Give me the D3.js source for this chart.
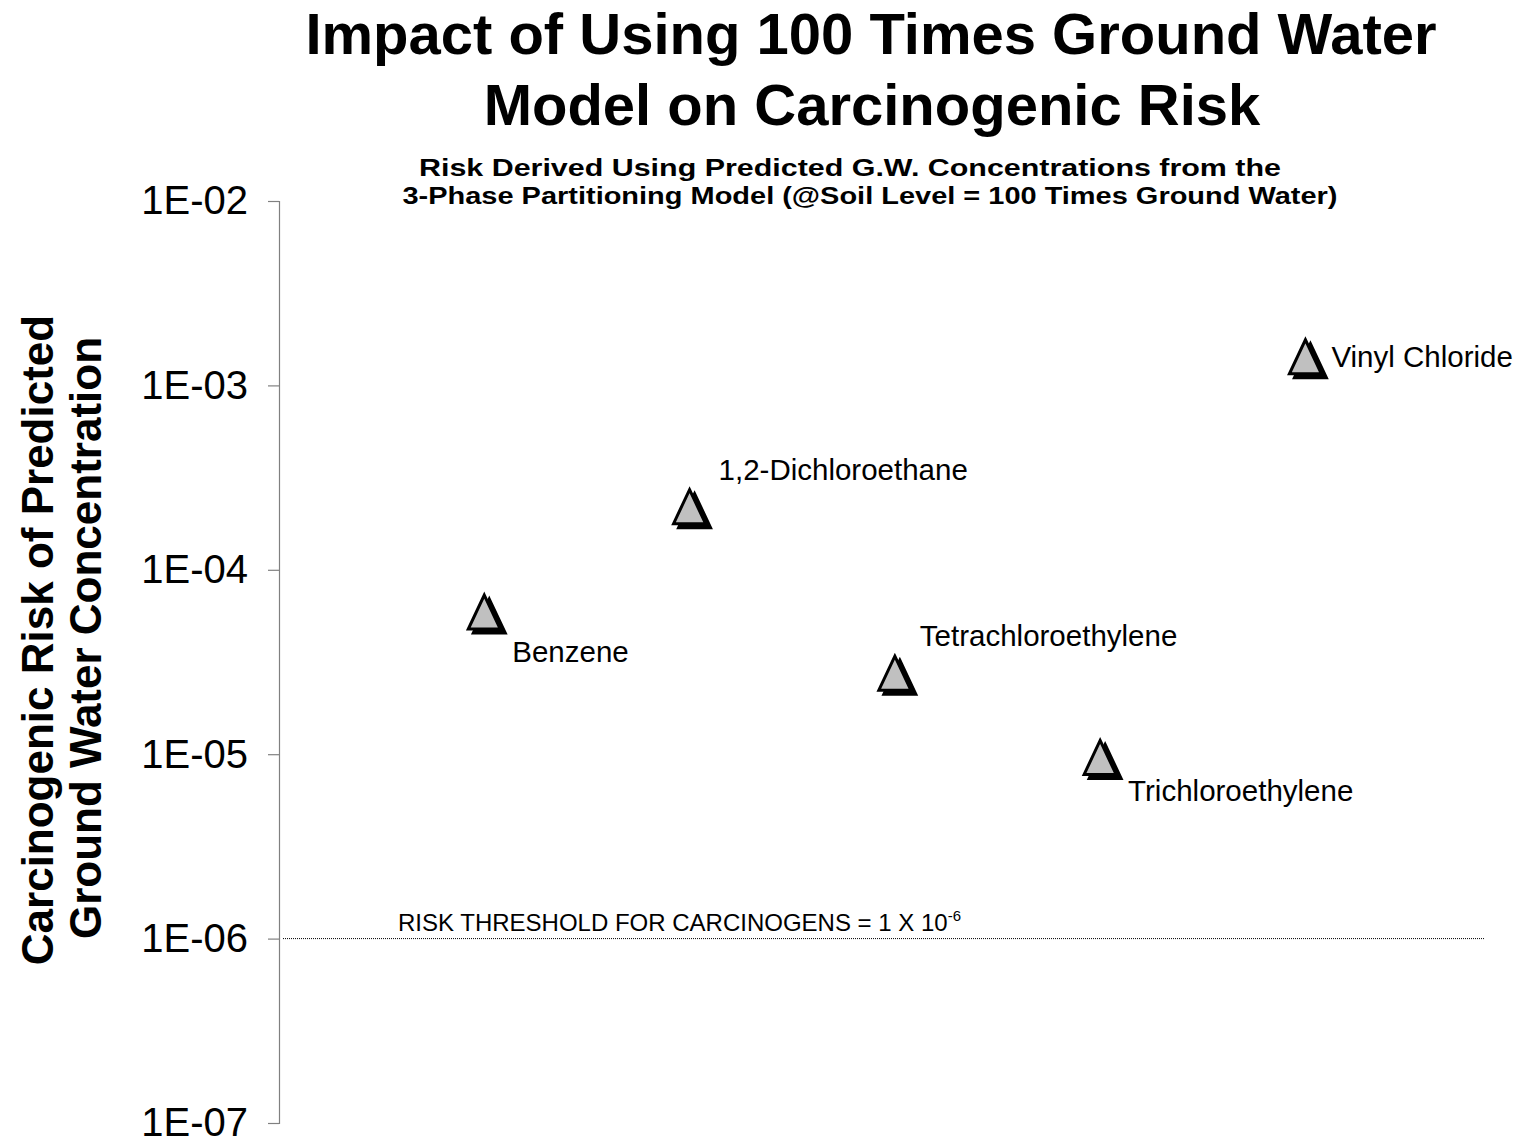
<!DOCTYPE html>
<html>
<head>
<meta charset="utf-8">
<script src="https://cdn.jsdelivr.net/npm/d3@7"></script>
<style>
  body { margin: 0; background: #fff; }
  text { font-family: "Liberation Sans", Arial, sans-serif; }
</style>
</head>
<body>
<div id="chart"></div>
<script>
var svgWidth = 1522;
var svgHeight = 1143;

// chemicals plotted along x (positions 1..5)
var chemicals = ["Benzene", "1,2-Dichloroethane", "Tetrachloroethylene", "Trichloroethylene", "Vinyl Chloride"];
var positions = [1, 2, 3, 4, 5];
// carcinogenic risk
var risks = [5.9e-5, 2.2e-4, 2.75e-5, 9.6e-6, 1.43e-3];
// label offsets from the marker (dx, dy to baseline)
var labelDx = [28, 29, 25, 28, 26];
var labelDy = [50, -27, -27, 44, 10];

var tickValues = [1e-2, 1e-3, 1e-4, 1e-5, 1e-6, 1e-7];
var tickLabels = ["1E-02", "1E-03", "1E-04", "1E-05", "1E-06", "1E-07"];
var threshold = 1e-6;

var margin = { top: 201, right: 38, bottom: 20, left: 279 };
var width = svgWidth - margin.left - margin.right;
var height = 1123 - margin.top;

var svg = d3.select("#chart")
    .append("svg")
    .attr("width", svgWidth)
    .attr("height", svgHeight);

// titles
svg.append("text")
    .attr("x", 871).attr("y", 54)
    .attr("text-anchor", "middle")
    .attr("font-size", "58px").attr("font-weight", "bold")
    .text("Impact of Using 100 Times Ground Water");
svg.append("text")
    .attr("x", 872).attr("y", 125)
    .attr("text-anchor", "middle")
    .attr("font-size", "58px").attr("font-weight", "bold")
    .text("Model on Carcinogenic Risk");
// subtitle is drawn wide in the original
svg.append("text")
    .attr("x", 850).attr("y", 176)
    .attr("text-anchor", "middle")
    .attr("font-size", "23px").attr("font-weight", "bold")
    .attr("textLength", 862).attr("lengthAdjust", "spacingAndGlyphs")
    .text("Risk Derived Using Predicted G.W. Concentrations from the");
svg.append("text")
    .attr("x", 870).attr("y", 204)
    .attr("text-anchor", "middle")
    .attr("font-size", "23px").attr("font-weight", "bold")
    .attr("textLength", 935).attr("lengthAdjust", "spacingAndGlyphs")
    .text("3-Phase Partitioning Model (@Soil Level = 100 Times Ground Water)");

var chartGroup = svg.append("g")
    .attr("transform", `translate(${margin.left}, ${margin.top})`);

var xScale = d3.scaleLinear()
    .domain([0, 5.87])
    .range([0, width]);

var yScale = d3.scaleLog()
    .domain([1e-7, 1e-2])
    .range([height, 0]);

var leftAxis = d3.axisLeft(yScale)
    .tickValues(tickValues)
    .tickFormat((d, i) => tickLabels[i])
    .tickSize(11)
    .tickPadding(20);

var yAxis = chartGroup.append("g").call(leftAxis);
yAxis.select(".domain").attr("stroke", "#808080").attr("stroke-width", 1.2);
yAxis.selectAll(".tick line").attr("stroke", "#808080").attr("stroke-width", 1.2);
yAxis.selectAll(".tick text")
    .attr("font-size", "40px")
    .attr("font-family", "'Liberation Sans', Arial, sans-serif")
    .attr("fill", "#000");

// y axis title
var yTitle = chartGroup.append("text")
    .attr("transform", `rotate(-90)`)
    .attr("text-anchor", "middle")
    .attr("font-size", "44px").attr("font-weight", "bold");
yTitle.append("tspan")
    .attr("x", -(640 - margin.top)).attr("y", 53 - margin.left)
    .text("Carcinogenic Risk of Predicted");
yTitle.append("tspan")
    .attr("x", -(638 - margin.top)).attr("y", 101 - margin.left)
    .text("Ground Water Concentration");

// threshold line
chartGroup.append("line")
    .attr("x1", 4).attr("x2", width)
    .attr("y1", yScale(threshold)).attr("y2", yScale(threshold))
    .attr("stroke", "#000")
    .attr("stroke-width", 1)
    .attr("stroke-dasharray", "1,1");

var thLabel = chartGroup.append("text")
    .attr("x", 398 - margin.left)
    .attr("y", yScale(threshold) - 8)
    .attr("font-size", "24px");
thLabel.append("tspan").text("RISK THRESHOLD FOR CARCINOGENS = 1 X 10");
thLabel.append("tspan").attr("dy", -10).attr("font-size", "15px").text("-6");

// markers: black shadow + grey triangle
var tri = "M0,-17L16,17L-16,17Z";
var points = chartGroup.selectAll(".pt")
    .data(chemicals)
    .enter().append("g")
    .attr("class", "pt")
    .attr("transform", (d, i) => `translate(${xScale(positions[i])}, ${yScale(risks[i])})`);

points.append("path")
    .attr("d", tri)
    .attr("transform", "translate(5,4)")
    .attr("fill", "#000")
    .attr("stroke", "#000")
    .attr("stroke-width", 3)
    .attr("stroke-linejoin", "miter");

points.append("path")
    .attr("d", tri)
    .attr("fill", "#c0c0c0")
    .attr("stroke", "#000")
    .attr("stroke-width", 3)
    .attr("stroke-linejoin", "miter");

points.append("text")
    .attr("x", (d, i) => labelDx[i])
    .attr("y", (d, i) => labelDy[i])
    .attr("font-size", "29.5px")
    .text(d => d);
</script>
</body>
</html>
